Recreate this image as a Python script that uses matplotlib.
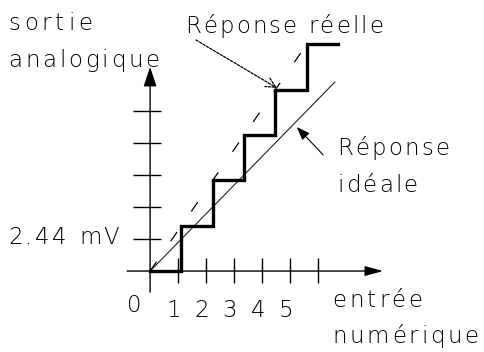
import numpy as np
import matplotlib.pyplot as plt
from matplotlib import font_manager
from matplotlib.ft2font import FT2Font

# DAC transfer: input code -> output level (in LSB)
codes = [0, 1, 2, 3, 4, 5, 6]
levels = [0, 1, 2, 3, 4, 5, 5]

# real (dashed) and ideal responses, in code / LSB units
real_x = [0, 5.18]
real_y = [0, 5.18]
ideal_x = [0, 5.9]
ideal_y = [0, 4.17]

x_ticks = [1, 2, 3, 4, 5, 6]
x_labels = ['1', '2', '3', '4', '5']
y_ticks = [1, 2, 3, 4, 5]
lsb_label = '2.44 mV'

# one code / one LSB expressed in tick spacings
step_w, step_h = 1.118, 1.416

fs = 16.5
prop = font_manager.FontProperties(family='DejaVu Sans', weight='light', size=fs)
ft = FT2Font(font_manager.findfont(prop))
ft.set_size(fs, 72)


def spaced(ax, x, y, s, track=2.0, ha='left'):
    # letter-spaced text, one glyph at a time
    adv = [ft.load_char(ord(c)).linearHoriAdvance / 65536 + track for c in s]
    off = -(sum(adv) - track) / 2 if ha == 'center' else 0
    for c, a in zip(s, adv):
        ax.annotate(c, (x, y), xytext=(off, 0), textcoords='offset points',
                    fontproperties=prop, va='baseline', ha='left', color='k')
        off += a


fig = plt.figure(figsize=(4.85, 3.52), dpi=100)
ax = fig.add_axes([0, 0, 1, 1])
ax.set_xlim(-5.36, 11.96)
ax.set_ylim(-2.53, 8.47)
ax.axis('off')

# axes with arrow heads
ax.annotate('', xy=(8.32, 0), xytext=(-0.82, 0),
            arrowprops=dict(arrowstyle='-|>,head_length=1.1,head_width=0.3',
                            lw=1, color='k', shrinkA=0, shrinkB=0))
ax.annotate('', xy=(0, 6.38), xytext=(0, -0.66),
            arrowprops=dict(arrowstyle='-|>,head_length=1.2,head_width=0.4',
                            lw=1, color='k', shrinkA=0, shrinkB=0))
ax.vlines(x_ticks, -0.37, 0.42, color='k', lw=1)
ax.hlines(y_ticks, -0.6, 0.4, color='k', lw=1)

# ideal and real straight lines
ax.plot(np.array(ideal_x) * step_w, np.array(ideal_y) * step_h, color='#222222', lw=0.8)
ax.plot(np.array(real_x) * step_w, np.array(real_y) * step_h, color='k', lw=0.9,
        dashes=(9, 20))

# staircase
ax.plot(np.array(codes) * step_w, np.array(levels) * step_h, drawstyle='steps-post',
        color='k', lw=2.4, solid_joinstyle='miter')

# labels
spaced(ax, -5.07, 7.53, 'sortie', 2.8)
spaced(ax, -5.07, 6.38, 'analogique', 2.0)
spaced(ax, 1.25, 7.44, 'Réponse réelle', 1.5)
spaced(ax, 6.68, 3.63, 'Réponse', 1.6)
spaced(ax, 6.68, 2.48, 'idéale', 1.6)
spaced(ax, -5.07, 0.84, lsb_label, 1.8)
spaced(ax, -0.57, -1.28, '0', ha='center')
for t, lab in zip(x_ticks, x_labels):
    spaced(ax, t - 0.15, -1.44, lab, ha='center')
spaced(ax, 6.5, -1.12, 'entrée', 2.2)
spaced(ax, 6.5, -2.25, 'numérique', 2.0)

# pointers to the two responses
ax.annotate('', xy=(4.53, 5.72), xytext=(1.64, 7.22),
            arrowprops=dict(arrowstyle='->,head_length=0.7,head_width=0.35',
                            lw=0.9, color='k', linestyle=(0, (2, 1.2)),
                            shrinkA=0, shrinkB=0))
ax.annotate('', xy=(5.24, 4.5), xytext=(6.18, 3.63),
            arrowprops=dict(arrowstyle='-|>,head_length=0.8,head_width=0.3',
                            lw=0.8, color='k', shrinkA=0, shrinkB=0))

fig.savefig('out.png', dpi=100)
